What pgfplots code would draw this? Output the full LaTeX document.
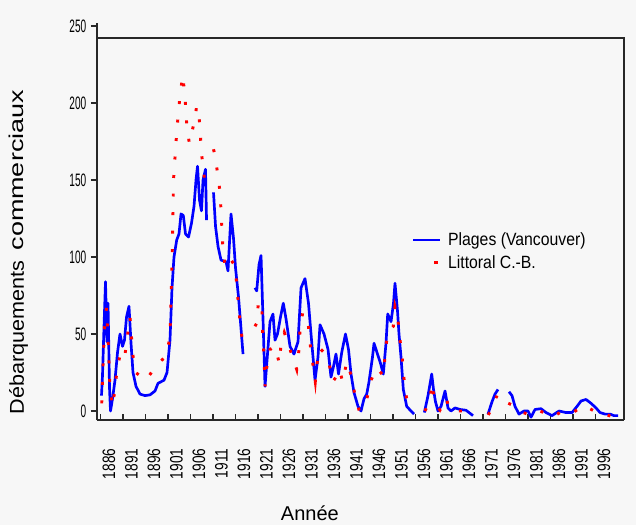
\documentclass[border=0pt]{standalone}
\usepackage{fontspec}
\setmainfont{Liberation Sans}
\newfontfamily\ytf{Liberation Sans}[FakeStretch=0.56]
\newfontfamily\xtf{Liberation Sans}[FakeStretch=0.76]
\newfontfamily\lgf{Liberation Sans}[FakeStretch=0.89]
\usepackage{graphicx}
\usepackage{pgfplots}
\pgfplotsset{compat=1.18}
\definecolor{bg}{RGB}{247,247,247}
\definecolor{axc}{RGB}{40,40,40}
\begin{document}
\begin{tikzpicture}
\fill[bg] (-72.75pt,-78.75pt) rectangle (404.25pt,315pt);
\begin{axis}[
  at={(0pt,0pt)}, anchor=south west,
  scale only axis, width=395.25pt, height=297.75pt,
  xmin=1885.22, xmax=2002.33, ymin=-5.84, ymax=252,
  clip=false,
  axis x line*=bottom, axis y line*=left,
  axis line style={-, line width=1.4pt, color=axc},
  xtick={1886,1891,...,1996},
  ytick={0,50,...,250},
  xtick align=inside, ytick align=outside,
  major tick length=4.5pt,
  tick style={line width=1pt, color=axc},
  /pgf/number format/assume math mode=true,
  /pgf/number format/1000 sep={},
  xticklabel style={font=\xtf\fontsize{13.5}{13.5}\selectfont, xshift=6.4pt, yshift=-18pt, rotate=90, anchor=east},
  yticklabel style={font=\ytf\fontsize{13.5}{13.5}\selectfont},
  xlabel={Année},
  xlabel style={at={(axis description cs:0.404,-0.234)}, anchor=center, font=\fontsize{15}{15}\selectfont},
  ylabel={\scalebox{1.08}[1]{Débarquements}\hspace{7.5pt}\scalebox{1.35}[1]{commerciaux}},
  ylabel style={at={(axis description cs:-0.149,0.423)}, anchor=center, font=\fontsize{15}{15}\selectfont},
  unbounded coords=jump,
  legend style={at={(axis description cs:0.598,0.48)}, anchor=north west, draw=none, fill=none,
    font=\lgf\fontsize{13.3}{15}\selectfont, inner sep=0pt, row sep=2pt},
  legend cell align=left,
]
\addplot[blue, line width=2pt, line join=round,
  legend image code/.code={\path[draw=none] (0pt,0pt) -- (24pt,0pt); \draw[blue, line width=1.6pt, solid] (0pt,0pt) -- (20.25pt,0pt);}]
coordinates {
(1886.22,10) (1886.44,23) (1886.78,55) (1887.11,84) (1887.44,45) (1887.67,70) (1888.0,15) (1888.22,0) (1888.67,8) (1889.22,20) (1889.78,38) (1890.33,50) (1890.89,42) (1891.33,46) (1891.78,61) (1892.33,68) (1892.78,44) (1893.22,25) (1893.89,16) (1894.78,11) (1895.89,10) (1897.0,10.5) (1898.11,13) (1898.78,18) (1900.11,20) (1900.78,25) (1901.44,46) (1901.89,80) (1902.33,100) (1902.93,111) (1903.44,115) (1903.89,128) (1904.4,127) (1904.89,115) (1905.56,113) (1906.22,122) (1906.78,133) (1907.22,150) (1907.56,159) (1908.0,137) (1908.44,130) (1908.78,150) (1909.33,157) (1909.56,124) (1910.3,nan)
(1911.11,142) (1911.56,120) (1912.11,107) (1912.78,98) (1913.89,97) (1914.33,91) (1915.0,128) (1915.56,112) (1916.0,93) (1916.67,74) (1917.67,37) (1919,nan)
(1920.33,80) (1920.71,78) (1921.22,95) (1921.67,101) (1922.11,60) (1922.56,16) (1923.11,37) (1923.67,58) (1924.33,63) (1924.78,46) (1925.33,50) (1926.0,61) (1926.62,70) (1927.22,60) (1928.11,42) (1929.0,37) (1929.89,45) (1930.56,80) (1931.44,86) (1932.22,70) (1932.78,50) (1933.67,20) (1934.33,35) (1934.78,56) (1935.67,50) (1936.56,40) (1937.22,22) (1937.78,29) (1938.33,37) (1938.89,24) (1939.6,38) (1940.44,50) (1941.11,40) (1941.67,24) (1942.33,12) (1943.22,3) (1943.89,0) (1944.56,8) (1945.16,11) (1945.67,19) (1946.44,35) (1946.78,44) (1947.44,38) (1948.22,31) (1948.84,24) (1949.44,44) (1949.82,63) (1950.56,58) (1951.11,70) (1951.44,83) (1952.0,65) (1952.33,50) (1952.78,35) (1953.29,14) (1954.04,3) (1955.0,0) (1955.67,-2) (1956.8,nan)
(1957.96,-1) (1958.78,10) (1959.6,24) (1960.0,14) (1960.44,6) (1961.0,0) (1961.67,3) (1962.56,13) (1963.22,2) (1963.89,0) (1964.78,2) (1965.89,1) (1967.22,0.5) (1968.78,-3) (1970.5,nan)
(1972.11,-2) (1973.0,6) (1973.67,11) (1974.33,14) (1975.5,nan)
(1976.78,12.5) (1977.44,10) (1978.11,3) (1979.0,-2) (1980.11,0) (1981.0,0) (1981.67,-4) (1982.56,1) (1983.89,1.5) (1985.0,-1) (1986.33,-3) (1987.89,0) (1989.44,-1) (1990.78,-1) (1991.89,3) (1992.78,6.5) (1993.89,7.5) (1995.0,5) (1996.11,2) (1997.0,-1) (1998.11,-2) (1999.22,-2) (2000.11,-3) (2001.0,-3)
};
\addlegendentry{Plages (Vancouver)}
\addplot[red, line width=2.2pt, line cap=butt, dash pattern=on 2.2pt off 11.7pt,
  legend image code/.code={\path[draw=none] (0pt,0pt) -- (24pt,0pt); \fill[red] (16.5pt,-1.1pt) rectangle (18.7pt,1.1pt);}]
coordinates {
(1886.27,5) (1886.56,30) (1886.89,54) (1887.33,67) (1887.78,40) (1888.11,15) (1888.71,3) (1889.22,15) (1889.73,28) (1890.33,36) (1891.29,33) (1891.67,42) (1892.56,61) (1893.16,37) (1893.82,25) (1896.11,20) (1898.49,30) (1900.71,36) (1901.44,49) (1902.0,110) (1902.22,150) (1902.93,181) (1903.29,193) (1903.67,205) (1904.27,218) (1904.78,204) (1905.16,186) (1905.73,174) (1906.78,187) (1907.38,198) (1907.67,196) (1908.11,185) (1908.33,171) (1908.71,160) (1909.22,148) (1910.2,nan)
(1911.11,170) (1911.44,166) (1912.04,154) (1912.56,142) (1912.78,130) (1913.16,108) (1913.67,94) (1914.78,99) (1915.73,95) (1916.27,83) (1916.62,70) (1917.0,58) (1917.56,45) (1919,nan)
(1920.33,55) (1920.71,57) (1921.07,70) (1921.82,71) (1922.04,48) (1922.33,36) (1922.56,16) (1922.93,28) (1923.67,40) (1924.78,42) (1925.73,31) (1926.11,43) (1926.84,51) (1928.11,40) (1929.6,27) (1930.11,40) (1930.33,52.6) (1930.93,64) (1932.18,56) (1932.56,44) (1933.07,33) (1933.73,19) (1934.04,29) (1934.62,41) (1935.67,38) (1936.78,31) (1937.6,19) (1938.33,22) (1939.07,27) (1939.82,19) (1940.71,32) (1941.82,22) (1942.56,10) (1943.51,0) (1945.16,7.6) (1946.11,20) (1947.38,28) (1948.84,23) (1949.22,35) (1949.6,46) (1949.96,52) (1951.07,55) (1951.44,68) (1952.04,62) (1952.33,51) (1952.93,38) (1953.29,26) (1953.67,13.6) (1954.4,2.8) (1955.22,0) (1956.8,nan)
(1958.11,0) (1959.22,7) (1959.6,18) (1960.33,5) (1961.44,0.6) (1962.93,8.4) (1963.29,2) (1964.11,0.6) (1965.73,0) (1967.22,0) (1968.56,-2) (1970.5,nan)
(1972.18,-2.6) (1973.22,4) (1974.11,10) (1975.5,nan)
(1976.62,5) (1977.44,4) (1978.78,0) (1979.96,-1) (1981.67,-3) (1983.67,0) (1986.56,-3.7) (1988.11,-1) (1990.33,-2) (1992.11,1) (1992.93,0.6) (1993.89,3) (1996.27,-1) (1998.11,-2) (1999.96,-4) (2000.78,-4)
};
\addlegendentry{Littoral C.-B.}
\draw[line width=1.4pt, axc] (axis cs:1885.22,242.2) -- (axis cs:2002.33,242.2) -- (axis cs:2002.33,-5.84);
\end{axis}
\pgfresetboundingbox
\useasboundingbox (-72.75pt,-78.75pt) rectangle (404.25pt,315pt);
\end{tikzpicture}
\end{document}
